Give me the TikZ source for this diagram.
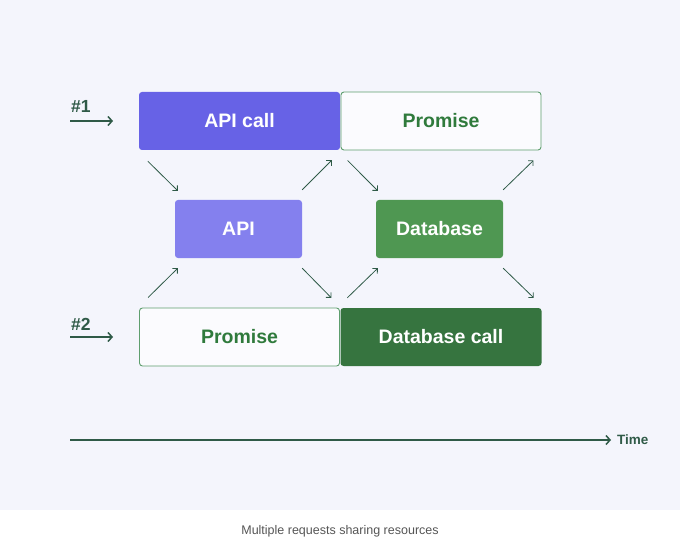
\documentclass[tikz,border=0pt]{standalone}
\usepackage{fontspec}
\usetikzlibrary{arrows.meta}
\setmainfont{Liberation Sans}
\definecolor{bgpanel}{HTML}{F4F5FC}
\definecolor{apidark}{HTML}{6762E6}
\definecolor{apilight}{HTML}{8480EE}
\definecolor{dblight}{HTML}{4F9752}
\definecolor{dbdark}{HTML}{36743F}
\definecolor{greentext}{HTML}{2F7A3C}
\definecolor{greenline}{HTML}{5E9E6E}
\definecolor{arrowgreen}{HTML}{2F5A47}
\definecolor{captiongray}{HTML}{555555}
\begin{document}
\begin{tikzpicture}[x=1pt,y=-1pt,
    every node/.style={font=\fontsize{19.5}{22}\selectfont\bfseries, inner sep=0pt},
    filledbox/.style={rounded corners=3pt, text=white, minimum height=58pt},
    openbox/.style={rounded corners=3pt, draw=greenline, line width=0.9pt, fill=white!60!bgpanel,
        text=greentext, minimum width=200pt, minimum height=58pt},
    flow/.style={-{Straight Barb[length=3.5pt,width=7pt]}, draw=arrowgreen, line width=0.8pt},
    timeflow/.style={-{Straight Barb[length=4pt,width=9pt]}, draw=arrowgreen, line width=1.5pt},
    reqlabel/.style={font=\fontsize{17.5}{20}\selectfont\bfseries, text=arrowgreen, anchor=west}]

    % background and page
    \useasboundingbox (0,0) rectangle (680,540);
    \fill[bgpanel] (0,0) rectangle (680,510);

    % Row 1 (API call to Promise)
    \node[filledbox, fill=apidark, minimum width=201pt] (apicall) at (239.5,121) {API call};
    \node[openbox] (promisetop) at (441,121) {Promise};
    \node[reqlabel] (req1) at (71,106) {\#1};
    \coordinate (req1start) at (70,121);
    \coordinate (req1end) at (113,121);
    \draw[timeflow] (req1start) -- (req1end);

    % Row 2 (API and Database)
    \node[filledbox, fill=apilight, minimum width=127pt] (api) at (238.5,229) {API};
    \node[filledbox, fill=dblight, minimum width=127pt] (db) at (439.5,229) {Database};

    % Row 3 (Promise to Database call)
    \node[openbox] (promisebot) at (239.5,337) {Promise};
    \node[filledbox, fill=dbdark, minimum width=201pt] (dbcall) at (441,337) {Database call};
    \node[reqlabel] (req2) at (71,324) {\#2};
    \coordinate (req2start) at (70,337);
    \coordinate (req2end) at (113,337);
    \draw[timeflow] (req2start) -- (req2end);

    % diagonal arrows, upper
    \draw[flow] ([shift={(9,11)}]apicall.south west) -- ([shift={(3,-9)}]api.north west);
    \draw[flow] ([shift={(0,-10)}]api.north east) -- ([shift={(-9,10)}]promisetop.south west);
    \draw[flow] ([shift={(7,10)}]promisetop.south west) -- ([shift={(2,-9)}]db.north west);
    \draw[flow] ([shift={(0,-10)}]db.north east) -- ([shift={(-8,10)}]promisetop.south east);

    % diagonal arrows, lower
    \draw[flow] ([shift={(9,-10)}]promisebot.north west) -- ([shift={(3,10)}]api.south west);
    \draw[flow] ([shift={(0,10)}]api.south east) -- ([shift={(-9,-10)}]dbcall.north west);
    \draw[flow] ([shift={(7,-10)}]dbcall.north west) -- ([shift={(2,10)}]db.south west);
    \draw[flow] ([shift={(0,10)}]db.south east) -- ([shift={(-8,-10)}]dbcall.north east);

    % time axis
    \coordinate (axisstart) at (70,440);
    \coordinate (axisend) at (611,440);
    \node[font=\fontsize{13.5}{15}\selectfont\bfseries, text=arrowgreen, anchor=west] (time) at (617,440) {Time};
    \draw[timeflow] (axisstart) -- (axisend);

    % caption
    \node[font=\fontsize{12.5}{14}\selectfont, text=captiongray] (caption) at (340,531) {Multiple requests sharing resources};
\end{tikzpicture}
\end{document}
